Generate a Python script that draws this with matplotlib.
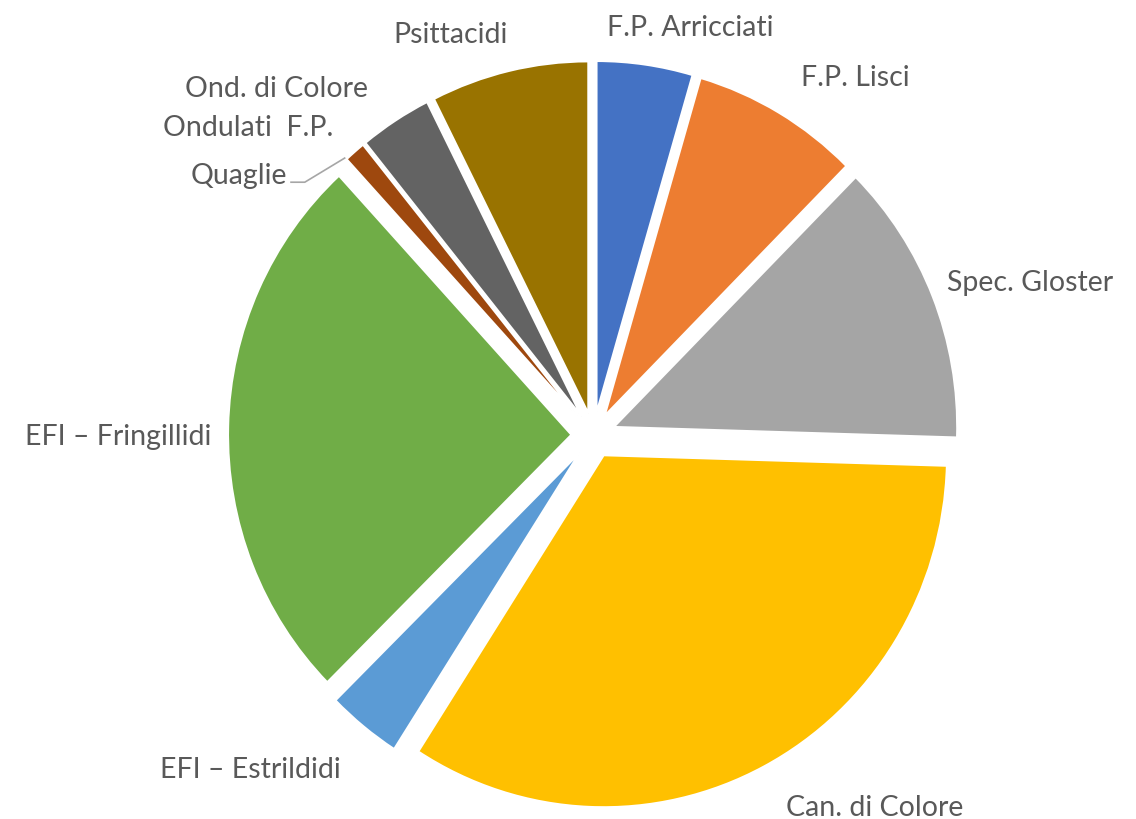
import numpy as np
import matplotlib
matplotlib.use("Agg")
import matplotlib.pyplot as plt

# pie data (percent share per category)
categories = ["F.P. Arricciati", "F.P. Lisci", "Spec. Gloster", "Can. di Colore",
              "EFI \u2013 Estrildidi", "EFI \u2013 Fringillidi", "Quaglie",
              "Ondulati  F.P.", "Ond. di Colore", "Psittacidi"]
shares = [4.5, 7.9, 13.0, 33.5, 3.5, 25.5, 0.0, 1.0, 3.4, 7.4]

colors = ["#4472C4", "#ED7D31", "#A5A5A5", "#FFC000", "#5B9BD5",
          "#70AD47", "#264478", "#9E480E", "#636363", "#997300"]

# label centres, in pie-radius units relative to the pie centre
label_xy = [(0.282, 1.159), (0.763, 1.017), (1.273, 0.435), (0.818, -1.057),
            (-0.999, -0.949), (-1.383, -0.003), (-1.031, 0.739),
            (-1.005, 0.875), (-0.923, 0.986), (-0.416, 1.139)]

W, H = 1136, 820
cx, cy = 593.4, 436.3      # pie centre in pixels (from top-left)
rx, ry = 343.4, 352.0      # pixels per radius unit (image slightly stretched)

fig = plt.figure(figsize=(W / 100, H / 100), dpi=100)
ax = fig.add_axes([0, 0, 1, 1])

wedges, _ = ax.pie(shares, colors=colors, startangle=90, counterclock=False,
                   explode=[0.064] * len(shares), radius=1.0,
                   wedgeprops=dict(edgecolor="white", linewidth=1.5))

ax.set_aspect("auto")
ax.set_xlim(-cx / rx, (W - cx) / rx)
ax.set_ylim(-(H - cy) / ry, cy / ry)
ax.axis("off")

txtcolor = "#595959"
texts = []
for name, (x, y) in zip(categories, label_xy):
    t = ax.text(x, y, name, ha="center", va="center", fontsize=20.5,
                color=txtcolor, family=["Lato", "DejaVu Sans"])
    texts.append(t)

# leader line for the zero slice (Quaglie)
q = categories.index("Quaglie")
fig.canvas.draw()
bb = texts[q].get_window_extent().transformed(ax.transData.inverted())
ang = np.deg2rad(wedges[q].theta1)
end = (1.07 * np.cos(ang), 1.07 * np.sin(ang))
start = (bb.x1 + 0.01, label_xy[q][1] - 0.02)
elbow = (start[0] + 0.04, start[1])
ax.plot([start[0], elbow[0], end[0]], [start[1], elbow[1], end[1]],
        color="#A6A6A6", linewidth=1.2)

fig.savefig("out.png", dpi=100)
